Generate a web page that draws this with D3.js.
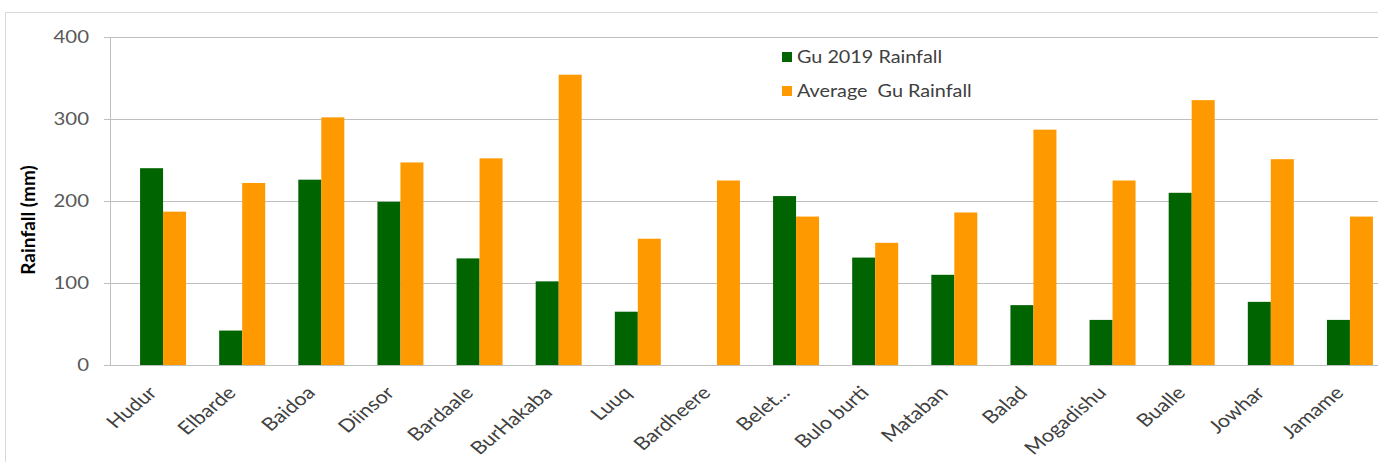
<!DOCTYPE html>
<html>
<head>
<meta charset="utf-8">
<script src="https://cdn.jsdelivr.net/npm/d3@7"></script>
<style>
  body { margin: 0; background: #fff; }
  text { font-family: Lato, "Open Sans", sans-serif; }
</style>
</head>
<body>
<div id="chart"></div>
<script>
// chart data
const stations = ["Hudur", "Elbarde", "Baidoa", "Diinsor", "Bardaale", "BurHakaba", "Luuq", "Bardheere",
    "Belet...", "Bulo burti", "Mataban", "Balad", "Mogadishu", "Bualle", "Jowhar", "Jamame"];
const gu2019 = [240, 42, 226, 199, 130, 102, 65, 0, 206, 131, 110, 73, 55, 210, 77, 55];
const avgGu = [187, 222, 302, 247, 252, 354, 154, 225, 181, 149, 186, 287, 225, 323, 251, 181];
const seriesNames = ["Gu 2019 Rainfall", "Average  Gu Rainfall"];
const yTicks = [0, 100, 200, 300, 400];

const width = 1378, height = 462;
const margin = { top: 37, left: 110, right: 0, bottom: 97 };
const colors = ["#006400", "#ff9900"];
const stretch = 1.2; // the original picture is stretched sideways

const svg = d3.select("#chart")
    .append("svg")
    .attr("width", width)
    .attr("height", height);

// outer chart border
svg.append("rect")
    .attr("x", 5.5).attr("y", 12.5)
    .attr("width", width + 10).attr("height", height)
    .attr("fill", "none")
    .attr("stroke", "#d9d9d9");

// the plot area runs a bit past the right edge of the picture
const x = d3.scaleBand()
    .domain(stations)
    .range([123.5, 1389.5]);

const x1 = d3.scaleBand()
    .domain([0, 1])
    .range([0, x.bandwidth()])
    .paddingOuter(0.72);

const y = d3.scaleLinear()
    .domain([0, 400])
    .range([height - margin.bottom, margin.top]);

// gridlines
svg.append("g")
    .selectAll("line")
    .data(yTicks)
    .join("line")
    .attr("x1", margin.left - 6)
    .attr("x2", width - margin.right)
    .attr("y1", d => y(d) + 0.5)
    .attr("y2", d => y(d) + 0.5)
    .attr("stroke", "#bfbfbf");

// y axis line
svg.append("line")
    .attr("x1", margin.left + 0.5).attr("x2", margin.left + 0.5)
    .attr("y1", y(400)).attr("y2", y(0))
    .attr("stroke", "#bfbfbf");

// y tick labels
svg.append("g")
    .selectAll("text")
    .data(yTicks)
    .join("text")
    .attr("transform", d => `translate(${margin.left - 21},${y(d)}) scale(${stretch},1)`)
    .attr("dy", "0.35em")
    .attr("text-anchor", "end")
    .attr("font-size", 17)
    .attr("fill", "#595959")
    .text(d => d);

// y axis title
svg.append("text")
    .attr("transform", `translate(35,220) rotate(-90)`)
    .attr("text-anchor", "middle")
    .attr("font-size", 19)
    .attr("font-weight", "bold")
    .attr("fill", "#000")
    .text("Rainfall (mm)");

// bars
const groups = svg.append("g")
    .selectAll("g")
    .data(stations)
    .join("g")
    .attr("transform", d => `translate(${x(d)},0)`);

groups.selectAll("rect")
    .data((d, i) => [gu2019[i], avgGu[i]])
    .join("rect")
    .attr("x", (d, j) => x1(j))
    .attr("width", x1.bandwidth())
    .attr("y", d => y(d))
    .attr("height", d => y(0) - y(d))
    .attr("fill", (d, j) => colors[j]);

// x labels
svg.append("g")
    .selectAll("text")
    .data(stations)
    .join("text")
    .attr("transform", d => `translate(${x(d) + x.bandwidth() / 2 - 5},${y(0) + 29}) scale(${stretch},1) rotate(-45)`)
    .attr("text-anchor", "end")
    .attr("font-size", 18)
    .attr("fill", "#404040")
    .text(d => d);

// legend
const legend = svg.append("g")
    .selectAll("g")
    .data(seriesNames)
    .join("g")
    .attr("transform", (d, i) => `translate(782,${57 + i * 34})`);

legend.append("rect")
    .attr("x", 0).attr("y", -5)
    .attr("width", 10).attr("height", 10)
    .attr("fill", (d, i) => colors[i]);

legend.append("text")
    .attr("transform", `translate(15,0) scale(${stretch},1)`)
    .attr("dy", "0.35em")
    .attr("font-size", 16.5)
    .attr("fill", "#404040")
    .style("white-space", "pre")
    .text(d => d);
</script>
</body>
</html>
